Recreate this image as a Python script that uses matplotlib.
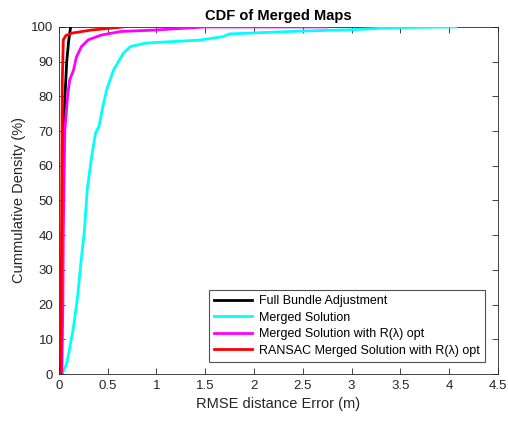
import matplotlib
matplotlib.use("Agg")
import matplotlib.pyplot as plt

plt.rcParams['font.family'] = ['Liberation Sans', 'DejaVu Sans']

# RMSE error (m) vs cumulative density (%) for each method
full_ba_x = [0.02, 0.03, 0.04, 0.05, 0.06, 0.08, 0.10, 0.12]
full_ba_y = [0, 20, 45, 65, 79, 90, 96, 100]

merged_x = [0.03, 0.08, 0.145, 0.19, 0.225, 0.26, 0.29, 0.335, 0.375, 0.41,
            0.45, 0.49, 0.56, 0.66, 0.73, 0.88, 0.98, 1.44, 1.68, 1.75,
            2.47, 3.0, 3.45, 4.07]
merged_y = [0, 3, 12.7, 22, 32, 41, 53, 62.6, 69.4, 71.3,
            77, 82, 87.6, 92.4, 94.3, 95.3, 95.5, 96.2, 97.2, 98,
            98.8, 99.2, 99.8, 100]

merged_r_x = [0.03, 0.04, 0.045, 0.06, 0.08, 0.09, 0.11, 0.15, 0.18, 0.23,
              0.30, 0.44, 0.64, 0.98, 1.5, 2.75]
merged_r_y = [0, 20, 41.5, 70, 77, 80.5, 84.7, 87.6, 91.4, 94.3,
              96.3, 97.7, 98.7, 99.1, 100, 100]

ransac_x = [0.02, 0.025, 0.03, 0.035, 0.045, 0.07, 0.13, 0.33, 0.66]
ransac_y = [0, 30, 60, 85, 96.3, 97.5, 98.2, 99.1, 100]

labels = ['Full Bundle Adjustment', 'Merged Solution',
          'Merged Solution with R(λ) opt',
          'RANSAC Merged Solution with R(λ) opt']
colors = ['black', 'cyan', 'magenta', 'red']

x_ticks = [0, 0.5, 1, 1.5, 2, 2.5, 3, 3.5, 4, 4.5]
x_tick_labels = ['0', '0.5', '1', '1.5', '2', '2.5', '3', '3.5', '4', '4.5']
y_ticks = list(range(0, 101, 10))

fig = plt.figure(figsize=(5.08, 4.21), dpi=100)
ax = fig.add_axes([0.116, 0.1116, 0.864, 0.8244])

series = [(full_ba_x, full_ba_y), (merged_x, merged_y),
          (merged_r_x, merged_r_y), (ransac_x, ransac_y)]
for (xs, ys), c, lab in zip(series, colors, labels):
    ax.plot(xs, ys, color=c, lw=2.0, label=lab, zorder=3)

ax.set_xlim(0, 4.5)
ax.set_ylim(0, 100)
ax.set_xticks(x_ticks)
ax.set_xticklabels(x_tick_labels)
ax.set_yticks(y_ticks)
ax.tick_params(direction='in', top=True, right=True, length=4, width=0.6,
               labelsize=9.5, colors='#262626', pad=4)
for sp in ax.spines.values():
    sp.set_color('#262626')
    sp.set_linewidth(0.6)

ax.set_xlabel('RMSE distance Error (m)', fontsize=10.5, color='#262626')
ax.set_ylabel('Cummulative Density (%)', fontsize=10.5, color='#262626')
ax.set_title('CDF of Merged Maps', fontsize=10.5, fontweight='bold', pad=5)

leg = ax.legend(loc='lower right', fontsize=9, frameon=True, fancybox=False,
                edgecolor='#262626', handlelength=3.0, handletextpad=0.6,
                borderpad=0.4, labelspacing=0.35, borderaxespad=1.0)
leg.get_frame().set_linewidth(0.8)

fig.savefig('out.png', dpi=100)
